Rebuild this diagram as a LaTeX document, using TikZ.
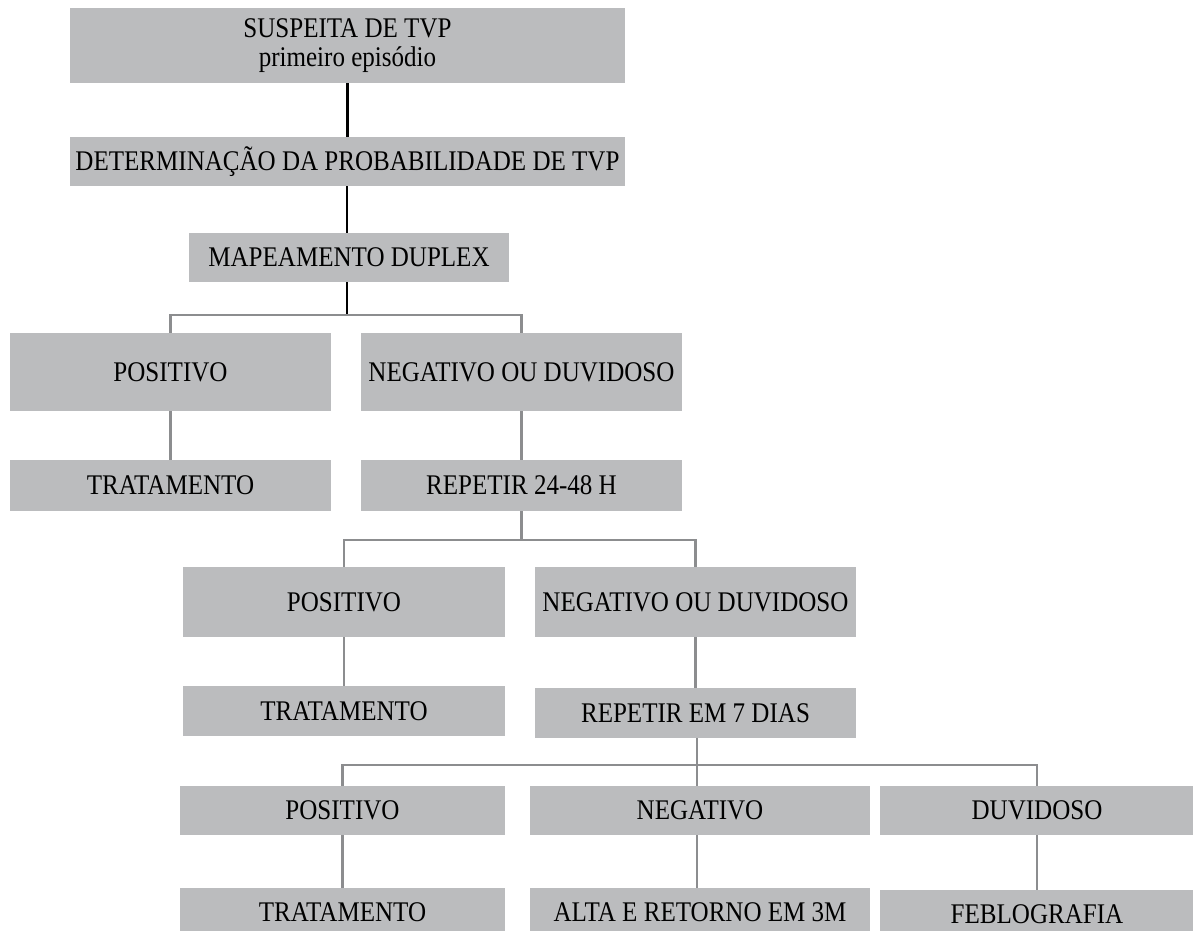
\documentclass[tikz,border=0pt]{standalone}
\usepackage{fontspec}
\setmainfont{Liberation Serif}[FakeStretch=0.88]
\definecolor{boxgray}{HTML}{BBBCBE}
\definecolor{linegray}{HTML}{8C8D8F}
\begin{document}
\begin{tikzpicture}[x=0.02cm,y=-0.02cm,
  box/.style={fill=boxgray,draw=none,inner sep=0pt,align=center,
    font=\fontsize{16.2}{16.5}\selectfont},
  blk/.style={draw=black,line width=1.7pt},
  conn/.style={draw=linegray,line width=1.4pt}]
\useasboundingbox (0,0) rectangle (1193,930);
\clip (0,0) rectangle (1193,930);
\fill[white] (0,0) rectangle (1193,930);
% boxes
\node[box,minimum width=555*0.02cm,minimum height=75*0.02cm] (b1) at (347.5,45.5) {SUSPEITA DE TVP\\primeiro episódio};
\node[box,minimum width=555*0.02cm,minimum height=49*0.02cm] (b2) at (347.5,161.5) {DETERMINAÇÃO DA PROBABILIDADE DE TVP};
\node[box,minimum width=320*0.02cm,minimum height=49*0.02cm] (b3) at (349,257.5) {MAPEAMENTO DUPLEX};
\node[box,minimum width=321*0.02cm,minimum height=78*0.02cm] (p1) at (170.5,372) {POSITIVO};
\node[box,minimum width=321*0.02cm,minimum height=78*0.02cm] (n1) at (521.5,372) {NEGATIVO OU DUVIDOSO};
\node[box,minimum width=321*0.02cm,minimum height=51*0.02cm] (t1) at (170.5,485.5) {TRATAMENTO};
\node[box,minimum width=321*0.02cm,minimum height=51*0.02cm] (r1) at (521.5,485.5) {REPETIR 24-48 H};
\node[box,minimum width=322*0.02cm,minimum height=70*0.02cm] (p2) at (344,602) {POSITIVO};
\node[box,minimum width=321*0.02cm,minimum height=70*0.02cm] (n2) at (695.5,602) {NEGATIVO OU DUVIDOSO};
\node[box,minimum width=322*0.02cm,minimum height=50*0.02cm] (t2) at (344,711) {TRATAMENTO};
\node[box,minimum width=321*0.02cm,minimum height=50*0.02cm] (r2) at (695.5,713) {REPETIR EM 7 DIAS};
\node[box,minimum width=325*0.02cm,minimum height=49*0.02cm] (p3) at (342.5,810.5) {POSITIVO};
\node[box,minimum width=340*0.02cm,minimum height=49*0.02cm] (n3) at (700,810.5) {NEGATIVO};
\node[box,minimum width=314*0.02cm,minimum height=49*0.02cm] (d3) at (1037,810.5) {DUVIDOSO};
\node[box,minimum width=325*0.02cm,minimum height=49*0.02cm] (t3) at (342.5,912.5) {TRATAMENTO};
\node[box,minimum width=340*0.02cm,minimum height=49*0.02cm] (a3) at (700,912.5) {ALTA E RETORNO EM 3M};
\node[box,minimum width=314*0.02cm,minimum height=49*0.02cm] (f3) at (1037,914.5) {FEBLOGRAFIA};
% junctions
\coordinate (j1) at (347,315);
\coordinate (j2) at (521.5,540);
\coordinate (j3) at (697,765);
% connectors
\draw[blk] (b1.south) -- (b2.north);
\draw[blk] ([xshift=-2*0.02cm]b3.north) -- ([xshift=-2*0.02cm]b2.south -| b3.north);
\draw[blk] (b3.south -| j1) -- (j1);
\draw[conn] (p1.north) |- (j1) -| (n1.north);
\draw[conn] (p1.south) -- (t1.north);
\draw[conn] (n1.south) -- (r1.north);
\draw[conn] (r1.south) -- (j2);
\draw[conn] (p2.north) |- (j2) -| (n2.north);
\draw[conn] (p2.south) -- (t2.north);
\draw[conn] (n2.south) -- (r2.north);
\draw[conn] (r2.south -| j3) -- (j3);
\draw[conn] (p3.north) |- (j3) -| (d3.north);
\draw[conn] (j3) -- (n3.north -| j3);
\draw[conn] (p3.south) -- (t3.north);
\draw[conn] (n3.south -| j3) -- (a3.north -| j3);
\draw[conn] (d3.south) -- (f3.north);
\end{tikzpicture}
\end{document}
